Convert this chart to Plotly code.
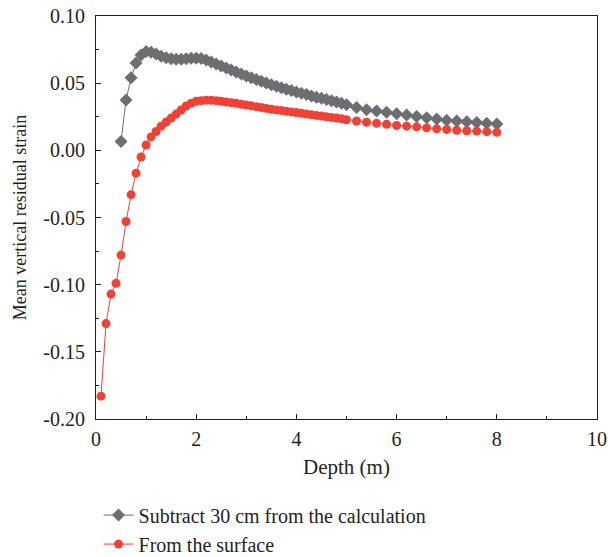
import plotly.graph_objects as go

# Depths (m)
red_x = [round(0.1 * i, 1) for i in range(1, 51)] + [5.2, 5.4, 5.6, 5.8, 6.0, 6.2, 6.4, 6.6, 6.8, 7.0, 7.2, 7.4, 7.6, 7.8, 8.0]
gray_x = [round(0.1 * i, 1) for i in range(5, 51)] + [5.2, 5.4, 5.6, 5.8, 6.0, 6.2, 6.4, 6.6, 6.8, 7.0, 7.2, 7.4, 7.6, 7.8, 8.0]

red_y = [-0.183, -0.129, -0.107, -0.099, -0.078, -0.053, -0.033, -0.017, -0.005, 0.004,
         0.010, 0.014, 0.018, 0.021, 0.024, 0.027, 0.030, 0.033, 0.035, 0.0365,
         0.037, 0.0372, 0.0372, 0.037, 0.0365, 0.036, 0.0355, 0.035, 0.0343, 0.0337,
         0.0331, 0.0325, 0.0318, 0.0312, 0.0306, 0.0301, 0.0296, 0.0291, 0.0286, 0.0281,
         0.0276, 0.0270, 0.0265, 0.0260, 0.0255, 0.0250, 0.0245, 0.0240, 0.0235, 0.0228,
         0.0218, 0.0209, 0.0201, 0.0194, 0.0185, 0.0180, 0.0175, 0.0167, 0.0160, 0.0155,
         0.0149, 0.0146, 0.0143, 0.0139, 0.0134]

gray_y = [0.0065, 0.0375, 0.054, 0.065, 0.071, 0.0735, 0.073, 0.0718, 0.070, 0.069,
          0.0682, 0.0678, 0.0678, 0.0682, 0.0686, 0.0686, 0.0683, 0.0672, 0.0658, 0.0642,
          0.0627, 0.0612, 0.0598, 0.0583, 0.0568, 0.0553, 0.0540, 0.0527, 0.0514, 0.0501,
          0.0489, 0.0477, 0.0466, 0.0455, 0.0445, 0.0435, 0.0425, 0.0415, 0.0405, 0.0396,
          0.0387, 0.0378, 0.0369, 0.0360, 0.0350, 0.0340,
          0.0318, 0.0302, 0.0293, 0.0283, 0.0273, 0.0263, 0.0251, 0.0243, 0.0233, 0.0224,
          0.0219, 0.0213, 0.0207, 0.0202, 0.0196]

y_ticks = [-0.20, -0.15, -0.10, -0.05, 0.00, 0.05, 0.10]
y_tick_text = ["-0.20", "-0.15", "-0.10", "-0.05", "0.00", "0.05", "0.10"]
x_ticks = [0, 2, 4, 6, 8, 10]

GRAY = "#6d6e71"
RED = "#ef4136"
INK = "#231f20"
FONT = "Liberation Serif"

fig = go.Figure()
fig.add_trace(go.Scatter(
    x=gray_x, y=gray_y, mode="lines+markers",
    name="Subtract 30 cm from the calculation",
    line=dict(color=GRAY, width=1),
    marker=dict(symbol="diamond", size=10, color=GRAY),
))
fig.add_trace(go.Scatter(
    x=red_x, y=red_y, mode="lines+markers",
    name="From the surface",
    line=dict(color=RED, width=1),
    marker=dict(symbol="circle", size=9, color=RED),
))

axis_common = dict(
    showline=True, linecolor=INK, linewidth=1, mirror=True,
    ticks="inside", ticklen=5, tickcolor=INK,
    showgrid=False, zeroline=False, automargin=False,
    tickfont=dict(family=FONT, size=20, color=INK),
)

fig.update_xaxes(
    range=[0, 10], tickvals=x_ticks, ticklabelstandoff=2,
    minor=dict(ticks="inside", ticklen=3, dtick=1, tickcolor=INK),
    title=dict(text="Depth (m)", font=dict(family=FONT, size=21, color=INK), standoff=10),
    **axis_common,
)
fig.update_yaxes(
    range=[-0.20, 0.10], tickvals=y_ticks, ticktext=y_tick_text, ticklabelstandoff=6,
    minor=dict(ticks="inside", ticklen=3, dtick=0.025, tickcolor=INK),
    title=dict(text="Mean vertical residual strain", font=dict(family=FONT, size=18, color=INK), standoff=12),
    **axis_common,
)

fig.update_layout(
    width=608, height=557,
    margin=dict(l=96, r=11, t=16, b=138, autoexpand=False),
    paper_bgcolor="white", plot_bgcolor="white",
    showlegend=True,
    legend=dict(
        x=0.005, y=-0.19, xanchor="left", yanchor="top",
        font=dict(family=FONT, size=20, color=INK),
        bgcolor="rgba(0,0,0,0)", tracegroupgap=0,
    ),
)

fig.write_html("out.html")
